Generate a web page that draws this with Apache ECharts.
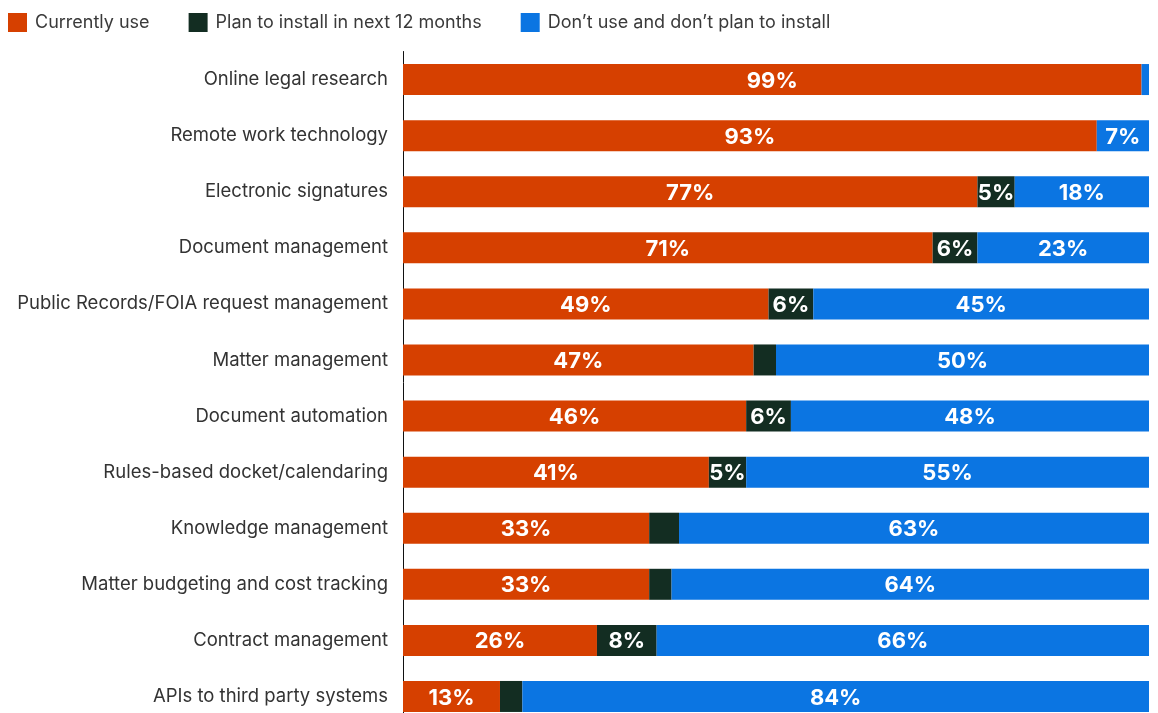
<!DOCTYPE html>
<html>
<head>
<meta charset="utf-8">
<script src="https://cdn.jsdelivr.net/npm/echarts@6/dist/echarts.min.js"></script>
<style>
  html, body { margin: 0; padding: 0; background: #ffffff; }
  #chart { width: 1158px; height: 713px; }
</style>
</head>
<body>
<div id="chart"></div>
<script>
// Legal technology adoption, share of respondents (%)
const categories = [
  'Online legal research',
  'Remote work technology',
  'Electronic signatures',
  'Document management',
  'Public Records/FOIA request management',
  'Matter management',
  'Document automation',
  'Rules-based docket/calendaring',
  'Knowledge management',
  'Matter budgeting and cost tracking',
  'Contract management',
  'APIs to third party systems'
];
const currentlyUse = [99, 93, 77, 71, 49, 47, 46, 41, 33, 33, 26, 13];
const planToInstall = [0, 0, 5, 6, 6, 3, 6, 5, 4, 3, 8, 3];
const dontUse = [1, 7, 18, 23, 45, 50, 48, 55, 63, 64, 66, 84];

const seriesNames = [
  'Currently use',
  'Plan to install in next 12 months',
  'Don\u2019t use and don\u2019t plan to install'
];
const colors = ['#d64000', '#132d22', '#0b75e2'];

const FONT = 'Inter, "Noto Sans", sans-serif';

function segLabel() {
  return {
    show: true,
    position: 'inside',
    color: '#ffffff',
    fontFamily: FONT,
    fontWeight: 700,
    fontSize: 22,
    offset: [0, 1.5],
    formatter: p => (p.value >= 5 ? p.value + '%' : '')
  };
}

const chart = echarts.init(document.getElementById('chart'), null, { renderer: 'canvas' });
chart.setOption({
  animation: false,
  color: colors,
  legend: {
    left: 3,
    top: 8,
    itemWidth: 19,
    itemHeight: 19,
    itemGap: 39,
    icon: 'rect',
    textStyle: { fontFamily: FONT, fontSize: 18, color: '#3a3a3a', padding: [0, 0, 0, 3] },
    data: seriesNames
  },
  grid: {
    left: 403,
    right: 9,
    top: 51.5,
    height: 673,
    containLabel: false,
    outerBoundsMode: 'none'
  },
  xAxis: {
    type: 'value',
    min: 0,
    max: 100,
    show: false
  },
  yAxis: {
    type: 'category',
    inverse: true,
    data: categories,
    axisLine: { show: true, lineStyle: { color: '#111111', width: 1 } },
    axisTick: { show: false },
    axisLabel: { fontFamily: FONT, fontSize: 18.5, color: '#333333', margin: 15 }
  },
  series: [
    { name: seriesNames[0], type: 'bar', stack: 'total', barWidth: 31, data: currentlyUse, label: segLabel() },
    { name: seriesNames[1], type: 'bar', stack: 'total', barWidth: 31, data: planToInstall, label: segLabel() },
    { name: seriesNames[2], type: 'bar', stack: 'total', barWidth: 31, data: dontUse, label: segLabel() }
  ]
});
</script>
</body>
</html>
